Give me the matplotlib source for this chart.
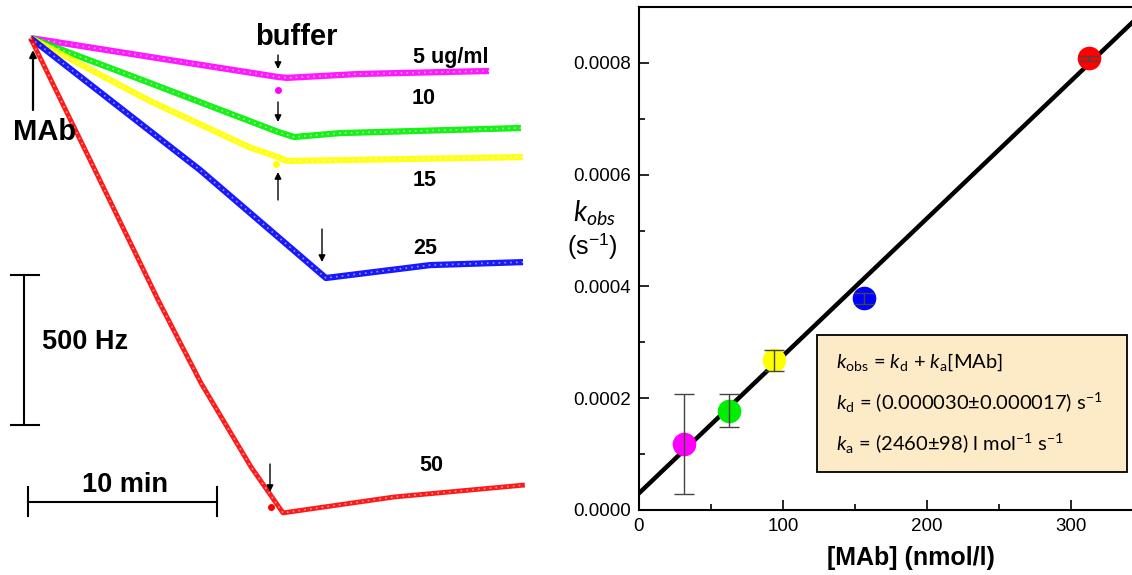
import matplotlib
matplotlib.use("Agg")
import matplotlib.pyplot as plt
import numpy as np
from matplotlib.patches import Rectangle

plt.rcParams['font.family'] = ['Liberation Sans', 'DejaVu Sans']
plt.rcParams['mathtext.fontset'] = 'custom'
plt.rcParams['mathtext.rm'] = 'Lato'
plt.rcParams['mathtext.it'] = 'Lato:italic'

# left panel: frequency shift traces (time in min, shift in Hz)
t_5 = [0, 6.32, 13.10, 13.57, 17.33, 24.26]
f_5 = [0, -63, -130, -133, -120, -110]
t_10 = [0, 6.32, 13.10, 13.94, 16.38, 25.95]
f_10 = [0, -150, -313, -330, -317, -300]
t_15 = [0, 6.32, 11.61, 13.10, 13.57, 26.06]
f_15 = [0, -210, -365, -397, -410, -397]
t_25 = [0, 8.97, 15.63, 21.14, 26.06]
f_25 = [0, -440, -800, -757, -747]
t_50 = [0, 3.41, 6.75, 9.02, 11.67, 13.36, 19.23, 26.16]
f_50 = [0, -440, -873, -1150, -1430, -1583, -1530, -1490]
trace_labels = ['5 ug/ml', '10', '15', '25', '50']

# right panel: kobs vs [MAb]
conc = [31.25, 62.5, 93.75, 156.25, 312.5]
kobs = [0.000118, 0.000178, 0.000268, 0.000379, 0.000808]
kobs_err = [0.000090, 0.000029, 0.000019, 0.0000098, 0.000005]
point_colors = ['#ff00ff', '#00ee00', '#ffff00', '#0000ff', '#ff0000']
kd = 0.000030
ka = 2460  # l mol^-1 s^-1

fig = plt.figure(figsize=(11.32, 5.75), dpi=100)


def lpx(x, y):
    # image pixel -> left panel data coords
    return (x - 30.5) / 18.9, (38 - y) * 500 / 150


axL = fig.add_axes([0, 0, 560 / 1132, 1])
axL.axis('off')
x0, y0 = lpx(0, 575)
x1, y1 = lpx(560, 0)
axL.set_xlim(x0, x1)
axL.set_ylim(y0, y1)

traces = [(t_5, f_5), (t_10, f_10), (t_15, f_15), (t_25, f_25), (t_50, f_50)]
widths = [4.5, 4.5, 4.5, 4.5, 3.5]
for (t, f), c, w in zip(traces, point_colors, widths):
    axL.plot(t, f, color=c, lw=w, solid_capstyle='butt', solid_joinstyle='round', alpha=0.9)
    # speckled look of the recorded traces
    axL.plot(t, f, color='white', lw=1.2, ls=(0, (1, 2.5)), alpha=0.55)

# small spikes at buffer injection
for (x, y), c in zip([(278, 90), (276, 164), (271, 507)], ['#ff00ff', '#ffff00', '#ff0000']):
    axL.plot(*lpx(x, y), 'o', color=c, ms=4)

lab_pos = [(451, 57), (424, 98), (425, 180), (425, 248), (431, 465)]
for s, (x, y) in zip(trace_labels, lab_pos):
    axL.text(*lpx(x, y), s, ha='center', va='center', fontsize=15.5, fontweight='bold')

axL.text(*lpx(296, 37), 'buffer', ha='center', va='center', fontsize=21, fontweight='bold')
axL.text(*lpx(45, 132), 'MAb', ha='center', va='center', fontsize=21, fontweight='bold')
axL.text(*lpx(85, 342), '500 Hz', ha='center', va='center', fontsize=19.5, fontweight='bold')
axL.text(*lpx(125, 485), '10 min', ha='center', va='center', fontsize=19.5, fontweight='bold')

arrows = [((33, 110), (33, 50), 1.6),
          ((278, 55), (278, 69), 1.0),
          ((278, 102), (278, 122), 1.0),
          ((278, 200), (278, 172), 1.0),
          ((322, 229), (322, 262), 1.0),
          ((270, 464), (270, 492), 1.0)]
for (xa, ya), (xb, yb), lw in arrows:
    axL.annotate('', xy=lpx(xb, yb), xytext=lpx(xa, ya),
                 arrowprops=dict(arrowstyle='-|>', color='black', lw=lw,
                                 mutation_scale=10, shrinkA=0, shrinkB=0))

# scale bars
xa, ya = lpx(24, 275)
xb, yb = lpx(24, 425)
axL.plot([xa, xb], [ya, yb], color='black', lw=1.5)
for yy in (275, 425):
    p, q = lpx(11, yy), lpx(39, yy)
    axL.plot([p[0], q[0]], [p[1], q[1]], color='black', lw=1.5)
p, q = lpx(28, 502), lpx(217, 502)
axL.plot([p[0], q[0]], [p[1], q[1]], color='black', lw=1.5)
for xx in (28, 217):
    p, q = lpx(xx, 487), lpx(xx, 516)
    axL.plot([p[0], q[0]], [p[1], q[1]], color='black', lw=1.5)

# right panel
axR = fig.add_axes([639 / 1132, 65 / 575, 497 / 1132, 503 / 575])
axR.set_xlim(0, 345)
axR.set_ylim(0, 0.0009)
xs = np.array(axR.get_xlim())
axR.plot(xs, kd + ka * 1e-9 * xs, color='black', lw=3.2, zorder=2)
for x, y, e, c in zip(conc, kobs, kobs_err, point_colors):
    axR.plot(x, y, 'o', color=c, ms=17, mew=0, zorder=3)
    axR.errorbar(x, y, yerr=e, fmt='none', ecolor='#444444', elinewidth=1,
                 capsize=7, capthick=1, zorder=4)

for side in ('left', 'bottom', 'top', 'right'):
    axR.spines[side].set_linewidth(1.5)
axR.set_xticks([0, 100, 200, 300])
axR.set_xticks([50, 150, 250], minor=True)
axR.set_yticks([0, 0.0002, 0.0004, 0.0006, 0.0008])
axR.set_yticklabels(['0.0000', '0.0002', '0.0004', '0.0006', '0.0008'])
axR.set_yticks([0.0001, 0.0003, 0.0005, 0.0007], minor=True)
axR.tick_params(which='both', direction='in', width=1.2, labelsize=13.5, pad=6)
axR.tick_params(which='major', length=7)
axR.tick_params(which='minor', length=4)
axR.tick_params(top=False, right=False, which='both')

fig.text(911 / 1132, 1 - 558 / 575, '[MAb] (nmol/l)', ha='center', va='center',
         fontsize=18, fontweight='bold')
fig.text(594 / 1132, 1 - 213 / 575, r'$k_{obs}$', ha='center', va='center', fontsize=20)
fig.text(592 / 1132, 1 - 247 / 575, r'(s$^{\mathregular{-1}}$)', ha='center', va='center',
         fontsize=18)

# fit result box
bx0, by0 = (817 - 639) / 1.4406, (510 - 472) / 558.9 * 0.001
bx1, by1 = (1127 - 639) / 1.4406, (510 - 335) / 558.9 * 0.001
axR.add_patch(Rectangle((bx0, by0), bx1 - bx0, by1 - by0, facecolor='#fdeac6',
                        edgecolor='black', lw=1.3, zorder=5))
tx = (836 - 639) / 1.4406
box_lines = [r'$k_{\mathrm{obs}}$ = $k_{\mathrm{d}}$ + $k_{\mathrm{a}}$[MAb]',
             r'$k_{\mathrm{d}}$ = (0.000030±0.000017) s$^{\mathrm{-1}}$',
             r'$k_{\mathrm{a}}$ = (2460±98) l mol$^{\mathrm{-1}}$ s$^{\mathrm{-1}}$']
for s, ypx in zip(box_lines, [362, 403, 444]):
    axR.text(tx, (510 - ypx) / 558.9 * 0.001, s, ha='left', va='center', fontsize=14.5,
             family='Lato', zorder=6)

fig.savefig('out.png', dpi=100)
